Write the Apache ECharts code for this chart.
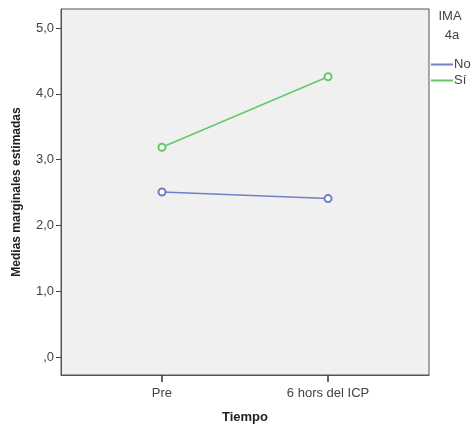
<!DOCTYPE html>
<html>
<head>
<meta charset="utf-8">
<script src="https://cdn.jsdelivr.net/npm/echarts@6/dist/echarts.min.js"></script>
<style>
  html, body { margin: 0; padding: 0; background: #fff; }
  #chart { width: 475px; height: 429px; }
</style>
</head>
<body>
<div id="chart"></div>
<script>
// data
var categories = ['Pre', '6 hors del ICP'];
var seriesNo = [2.51, 2.41];
var seriesSi = [3.19, 4.26];
var xTicks = [0, 1];
var yTicks = [0, 1, 2, 3, 4, 5];

function fmtY(v) {
  var s = v.toFixed(1).replace('.', ',');
  return s === '0,0' ? ',0' : s;
}

var myChart = echarts.init(document.getElementById('chart'));
myChart.setOption({
  animation: false,
  grid: { left: 61, top: 9, width: 368, height: 369, show: true, backgroundColor: '#f0f0f0', borderColor: '#555', borderWidth: 1 },
  xAxis: {
    type: 'value',
    min: -0.608,
    max: 1.608,
    name: 'Tiempo',
    nameLocation: 'middle',
    nameGap: 36,
    nameTextStyle: { fontWeight: 'bold', fontSize: 13, color: '#222', fontFamily: 'Liberation Sans' },
    axisLine: { show: true, onZero: false, lineStyle: { color: '#555' } },
    splitLine: { show: false },
    axisTick: { show: true, customValues: xTicks, length: 7, lineStyle: { color: '#333', width: 1.5 } },
    axisLabel: {
      customValues: xTicks,
      formatter: function (v) { return categories[Math.round(v)]; },
      color: '#444', fontSize: 13, fontFamily: 'Liberation Sans', margin: 12
    }
  },
  yAxis: {
    type: 'value',
    min: -0.27,
    max: 5.29,
    name: 'Medias marginales estimadas',
    nameLocation: 'middle',
    nameGap: 38,
    nameTextStyle: { fontWeight: 'bold', fontSize: 12, color: '#222', fontFamily: 'Liberation Sans' },
    axisLine: { show: true, onZero: false, lineStyle: { color: '#555' } },
    splitLine: { show: false },
    axisTick: { show: true, customValues: yTicks, length: 5, lineStyle: { color: '#444' } },
    axisLabel: {
      customValues: yTicks,
      formatter: fmtY,
      color: '#444', fontSize: 13, fontFamily: 'Liberation Sans', margin: 7
    }
  },
  legend: {
    left: 426,
    top: 53,
    orient: 'vertical',
    itemWidth: 22,
    itemHeight: 2,
    itemGap: 3,
    icon: 'rect',
    textStyle: { fontSize: 13, color: '#444', fontFamily: 'Liberation Sans', padding: [0, 0, 0, -4] },
    data: ['No', 'Sí']
  },
  graphic: [
    { type: 'text', x: 450, y: 10, style: { text: 'IMA', align: 'center', fontSize: 13, fill: '#444', fontFamily: 'Liberation Sans' } },
    { type: 'text', x: 452, y: 29, style: { text: '4a', align: 'center', fontSize: 13, fill: '#444', fontFamily: 'Liberation Sans' } }
  ],
  series: [
    {
      name: 'No', type: 'line',
      data: seriesNo.map(function (v, i) { return [i, v]; }),
      symbol: 'emptyCircle', symbolSize: 7,
      lineStyle: { color: '#6f7fc8', width: 1.5 },
      itemStyle: { color: '#6f7fc8', borderWidth: 1.5 }
    },
    {
      name: 'Sí', type: 'line',
      data: seriesSi.map(function (v, i) { return [i, v]; }),
      symbol: 'emptyCircle', symbolSize: 7,
      lineStyle: { color: '#62c96b', width: 1.5 },
      itemStyle: { color: '#62c96b', borderWidth: 1.5 }
    }
  ]
});
</script>
</body>
</html>
